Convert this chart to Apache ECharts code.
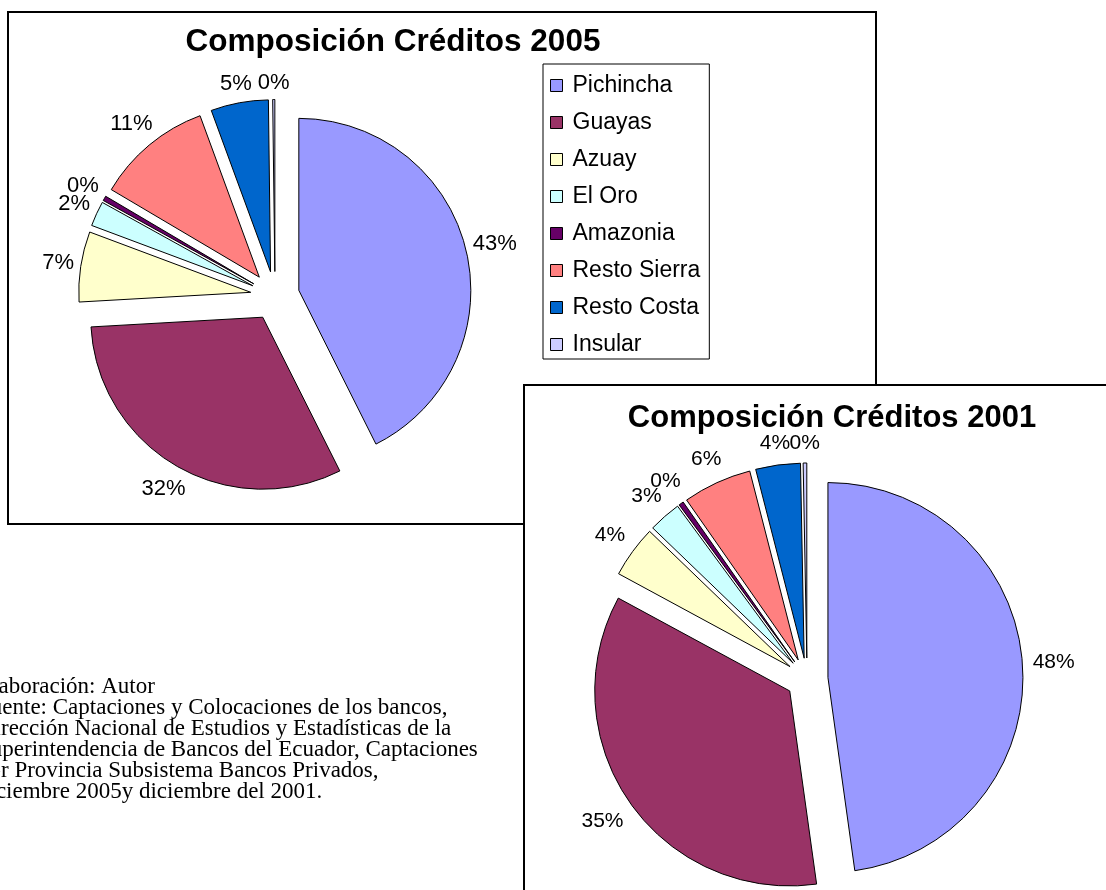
<!DOCTYPE html>
<html><head><meta charset="utf-8">
<script src="https://cdn.jsdelivr.net/npm/echarts@6/dist/echarts.min.js"></script>
<style>html,body{margin:0;padding:0;background:#fff}#c{width:1106px;height:890px}</style>
</head><body><div id="c"></div>
<script>
const categories = ['Pichincha','Guayas','Azuay','El Oro','Amazonia','Resto Sierra','Resto Costa','Insular'];
const values2005 = [42.6, 31.5, 6.6, 2.35, 0.45, 10.9, 5.4, 0.2];
const values2001 = [47.8, 35.1, 4.3, 2.7, 0.4, 5.7, 3.7, 0.3];
const colors = ['#9999FF','#993366','#FFFFCC','#CCFFFF','#660066','#FF8080','#0066CC','#CCCCFF'];
const titles = ['Composición Créditos 2005','Composición Créditos 2001'];
const notes = [
  'Elaboración: Autor',
  'Fuente: Captaciones y Colocaciones de los bancos,',
  'Dirección Nacional de Estudios y Estadísticas de la',
  'Superintendencia de Bancos del Ecuador, Captaciones',
  'por Provincia Subsistema Bancos Privados,',
  'diciembre 2005y diciembre del 2001.'
];

const SANS = '"Liberation Sans", Arial, sans-serif';
const chart = echarts.init(document.getElementById('c'));

// Excel-like "outside end" label placement: label box kept at a fixed gap from the pie,
// so the label centre distance depends on the label box extent along the slice direction.
function labelLengths(values, r, offset, gap, fontSize) {
  const total = values.reduce((a, b) => a + b, 0);
  let cum = 0;
  return values.map(v => {
    const mid = (cum + v / 2) / total * 2 * Math.PI;
    cum += v;
    const txt = Math.round(v / total * 100) + '%';
    const w = fontSize * (0.556 * (txt.length - 1) + 0.889);
    const ext = w / 2 * Math.abs(Math.sin(mid)) + fontSize / 2 * Math.abs(Math.cos(mid));
    return gap + ext - r - offset;
  });
}

function pieSeries(values, center, radius, offset, gap, fontSize) {
  const lens = labelLengths(values, radius, offset, gap, fontSize);
  return {
    type: 'pie',
    center: center,
    radius: radius,
    startAngle: 90,
    clockwise: true,
    selectedMode: 'multiple',
    selectedOffset: offset,
    avoidLabelOverlap: false,
    animation: false,
    data: categories.map((n, i) => ({
      name: n, value: values[i], selected: true,
      itemStyle: { color: colors[i] },
      labelLine: { length: lens[i] }
    })),
    itemStyle: { borderColor: '#000', borderWidth: 1 },
    select: { itemStyle: { borderColor: '#000', borderWidth: 1 } },
    emphasis: { disabled: true },
    label: {
      show: true, position: 'outside', color: '#000', fontFamily: SANS, fontSize: fontSize,
      distanceToLabelLine: 0,
      formatter: p => Math.round(p.percent) + '%'
    },
    labelLine: { show: false, length: 20, length2: 0 },
    labelLayout: () => ({ align: 'center' })
  };
}

chart.setOption({
  animation: false,
  backgroundColor: '#fff',
  title: [
    { text: titles[0], left: 393, top: 26, textAlign: 'center', padding: 0,
      textStyle: { fontSize: 31.5, fontWeight: 'bold', fontFamily: SANS, color: '#000' } },
    { text: titles[1], left: 832, top: 403, textAlign: 'center', padding: 0,
      textStyle: { fontSize: 31, fontWeight: 'bold', fontFamily: SANS, color: '#000' } }
  ],
  legend: {
    orient: 'vertical', left: 543, top: 64, data: categories, icon: 'rect',
    itemWidth: 12, itemHeight: 12, itemGap: 14, padding: [10, 9, 3, 7],
    borderColor: '#000', borderWidth: 1, backgroundColor: '#fff', selectedMode: false,
    textStyle: { fontSize: 23, fontFamily: SANS, color: '#000', padding: [0, 0, 0, 5] },
    itemStyle: { borderColor: '#000', borderWidth: 1 }
  },
  graphic: [
    { type: 'rect', z: 0, shape: { x: 8, y: 12, width: 868, height: 512 },
      style: { fill: '#fff', stroke: '#000', lineWidth: 2 } },
    { type: 'rect', z: 1, shape: { x: 524, y: 385, width: 700, height: 700 },
      style: { fill: '#fff', stroke: '#000', lineWidth: 2 } },
    { type: 'text', z: 1, x: -22, y: 676,
      style: { text: notes.join('\n'), fontSize: 23, fontFamily: '"Liberation Serif", "Times New Roman", serif', fill: '#000', lineHeight: 21 } }
  ],
  series: [
    pieSeries(values2005, [275, 296], 172, 24.5, 202, 22),
    pieSeries(values2001, [807, 679], 195, 21, 225.6, 21)
  ]
});
</script></body></html>
